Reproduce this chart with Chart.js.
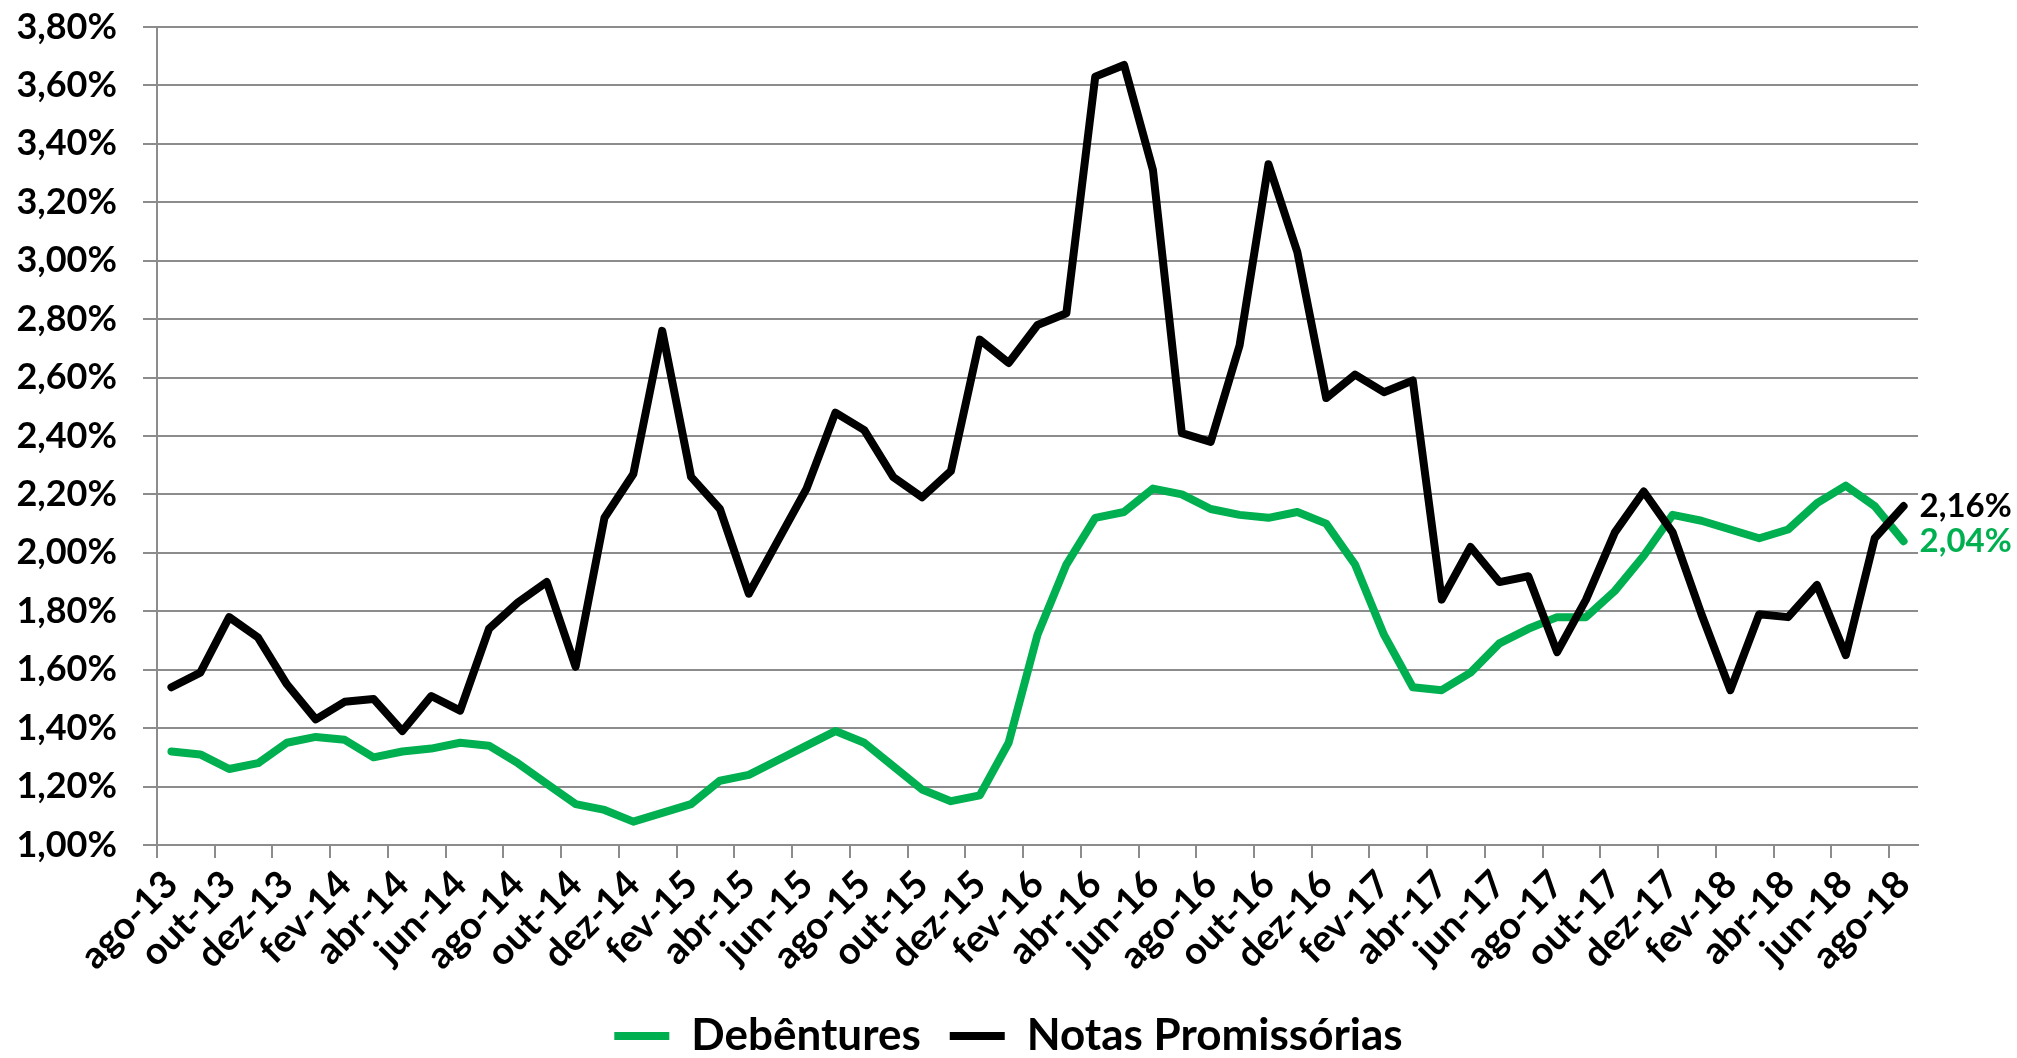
<!DOCTYPE html>
<html>
<head>
<meta charset="utf-8">
<script src="https://cdn.jsdelivr.net/npm/chart.js@4.4.1/dist/chart.umd.min.js"></script>
<style>
  html, body { margin: 0; padding: 0; background: #fff; }
  canvas { display: block; }
</style>
</head>
<body>
<canvas id="spreadChart" width="2017" height="1058"></canvas>
<script>
var months = ['ago-13','set-13','out-13','nov-13','dez-13','jan-14','fev-14','mar-14','abr-14','mai-14','jun-14','jul-14',
  'ago-14','set-14','out-14','nov-14','dez-14','jan-15','fev-15','mar-15','abr-15','mai-15','jun-15','jul-15',
  'ago-15','set-15','out-15','nov-15','dez-15','jan-16','fev-16','mar-16','abr-16','mai-16','jun-16','jul-16',
  'ago-16','set-16','out-16','nov-16','dez-16','jan-17','fev-17','mar-17','abr-17','mai-17','jun-17','jul-17',
  'ago-17','set-17','out-17','nov-17','dez-17','jan-18','fev-18','mar-18','abr-18','mai-18','jun-18','jul-18','ago-18'];

var debentures = [1.32,1.31,1.26,1.28,1.35,1.37,1.36,1.30,1.32,1.33,1.35,1.34,
  1.28,1.21,1.14,1.12,1.08,1.11,1.14,1.22,1.24,1.29,1.34,1.39,
  1.35,1.27,1.19,1.15,1.17,1.35,1.72,1.96,2.12,2.14,2.22,2.20,
  2.15,2.13,2.12,2.14,2.10,1.96,1.72,1.54,1.53,1.59,1.69,1.74,
  1.78,1.78,1.87,1.99,2.13,2.11,2.08,2.05,2.08,2.17,2.23,2.16,2.04];

var notas = [1.54,1.59,1.78,1.71,1.55,1.43,1.49,1.50,1.39,1.51,1.46,1.74,
  1.83,1.90,1.61,2.12,2.27,2.76,2.26,2.15,1.86,2.04,2.22,2.48,
  2.42,2.26,2.19,2.28,2.73,2.65,2.78,2.82,3.63,3.67,3.31,2.41,
  2.38,2.71,3.33,3.03,2.53,2.61,2.55,2.59,1.84,2.02,1.90,1.92,
  1.66,1.84,2.07,2.21,2.07,1.79,1.53,1.79,1.78,1.89,1.65,2.05,2.16];

var green = '#00b050';
var gridGray = '#8c8c8c';

function pct(v) {
  return v.toFixed(2).replace('.', ',') + '%';
}

// last value written next to the end of each line
var endLabels = {
  id: 'endLabels',
  afterDatasetsDraw: function(chart) {
    var ctx = chart.ctx;
    ctx.save();
    ctx.font = 'bold 33px Lato';
    ctx.textBaseline = 'middle';
    ctx.textAlign = 'left';
    chart.data.datasets.forEach(function(ds, i) {
      var pts = chart.getDatasetMeta(i).data;
      var p = pts[pts.length - 1];
      ctx.fillStyle = ds.borderColor;
      ctx.fillText(pct(ds.data[ds.data.length - 1]), p.x + 16, p.y);
    });
    ctx.restore();
  }
};

Chart.defaults.font.family = 'Lato';
Chart.defaults.color = '#000';

var spreadCanvas = document.getElementById("spreadChart");
var lineChart = new Chart(spreadCanvas, {
  type: 'line',
  data: {
    labels: months,
    datasets: [{
      label: 'Debêntures',
      data: debentures,
      borderColor: green,
      backgroundColor: green,
      borderWidth: 8,
      pointRadius: 0,
      borderJoinStyle: 'round',
      borderCapStyle: 'round',
      order: 1
    },
    {
      label: 'Notas Promissórias',
      data: notas,
      borderColor: '#000',
      backgroundColor: '#000',
      borderWidth: 8,
      pointRadius: 0,
      borderJoinStyle: 'round',
      borderCapStyle: 'round',
      order: 0
    }]
  },
  options: {
    responsive: false,
    animation: false,
    devicePixelRatio: 1,
    layout: { padding: { left: 0, right: 0, top: 27, bottom: 0 } },
    plugins: {
      tooltip: { enabled: false },
      legend: {
        position: 'bottom',
        maxHeight: 73,
        labels: {
          usePointStyle: true,
          pointStyle: 'line',
          pointStyleWidth: 55,
          padding: 29,
          font: { size: 44, weight: 'bold' },
          sort: function(a, b) { return a.datasetIndex - b.datasetIndex; }
        }
      }
    },
    scales: {
      x: {
        offset: true,
        afterFit: function(scale) { scale.height = 140; },
        grid: {
          offset: true,
          drawOnChartArea: false,
          tickLength: 13,
          lineWidth: 2,
          color: function(c) { return c.index % 2 === 0 ? gridGray : 'rgba(0,0,0,0)'; }
        },
        border: { color: gridGray, width: 2 },
        ticks: {
          autoSkip: false,
          maxRotation: 45,
          minRotation: 45,
          padding: 4,
          font: { size: 38, weight: 'bold' },
          callback: function(val, idx) { return idx % 2 === 0 ? months[idx] : ''; }
        }
      },
      y: {
        min: 1,
        max: 3.8,
        afterFit: function(scale) {
          scale.width = 157;
          scale.paddingTop = 0;
          scale.paddingBottom = 0;
        },
        grid: { color: gridGray, lineWidth: 2, tickLength: 14 },
        border: { color: gridGray, width: 2 },
        ticks: {
          stepSize: 0.2,
          padding: 26,
          font: { size: 36, weight: 'bold' },
          callback: function(v) { return pct(v); }
        }
      },
      // empty right axis, only keeps room for the end labels
      side: {
        position: 'right',
        display: true,
        afterFit: function(scale) {
          scale.width = 99;
          scale.paddingTop = 0;
          scale.paddingBottom = 0;
        },
        grid: { display: false },
        border: { display: false },
        ticks: { display: false }
      }
    }
  },
  plugins: [endLabels]
});
</script>
</body>
</html>
